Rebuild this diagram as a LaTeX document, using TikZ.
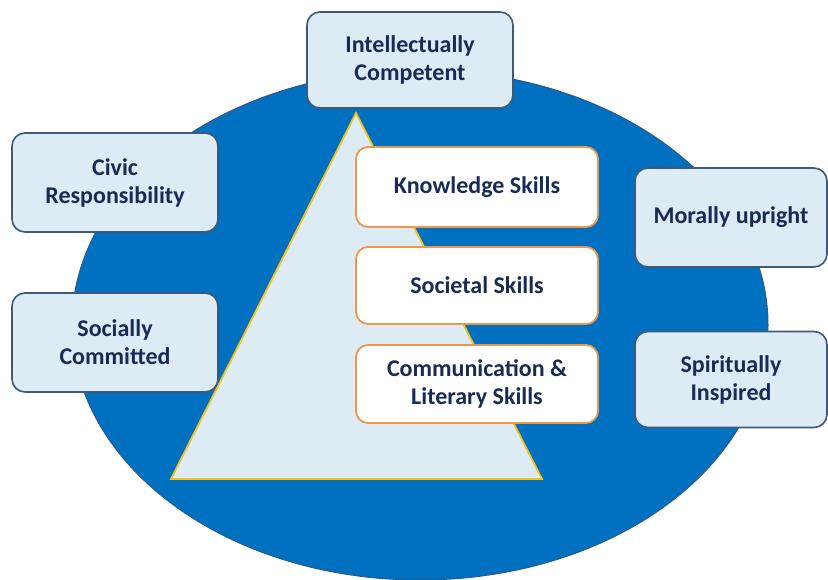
\documentclass[tikz,border=0pt]{standalone}
\usepackage{fontspec}
\setmainfont{Carlito}
\usetikzlibrary{shapes.geometric}
\definecolor{bigblue}{HTML}{0070C0}
\definecolor{ringline}{HTML}{2F5A86}
\definecolor{paleblue}{HTML}{DCEBF4}
\definecolor{boxline}{HTML}{3E5A78}
\definecolor{skillline}{HTML}{F0964A}
\definecolor{gold}{HTML}{F5C01A}
\definecolor{navy}{HTML}{172B55}
\tikzset{
  valuebox/.style={draw=boxline, line width=1.6pt, fill=paleblue, rounded corners=13pt,
    text=navy, font=\bfseries\fontsize{24}{28}\selectfont, align=center, inner sep=0pt},
  skillbox/.style={draw=skillline, line width=1.8pt, fill=white, rounded corners=12pt,
    text=navy, font=\bfseries\fontsize{24}{28}\selectfont, align=center, inner sep=0pt,
    minimum width=242pt},
}
\begin{document}
\begin{tikzpicture}[x=1pt,y=-1pt]
\useasboundingbox (0,0) rectangle (828,580);
% big ellipse
\node[draw=ringline, line width=1pt, fill=bigblue, ellipse, minimum width=696pt, minimum height=510pt, inner sep=0pt] (ring) at (420,325) {};
% pyramid
\coordinate (apex) at (356,113);
\coordinate (bl) at (171,479);
\coordinate (br) at (542,479);
\draw[gold, line width=1.8pt, fill=paleblue, line join=miter] (apex) -- (bl) -- (br) -- cycle;
% value boxes
\node[valuebox, minimum width=206pt, minimum height=96pt] (intel) at (410,60) {Intellectually\\Competent};
\node[valuebox, minimum width=206pt, minimum height=99pt] (civic) at (115,182.5) {Civic\\Responsibility};
\node[valuebox, minimum width=206pt, minimum height=99pt] (social) at (115,342.5) {Socially\\Committed};
\node[valuebox, minimum width=192pt, minimum height=99pt] (moral) at (731,217.5) {Morally upright};
\node[valuebox, minimum width=192pt, minimum height=96pt] (spirit) at (731,379.5) {Spiritually\\Inspired};
% skill boxes
\node[skillbox, minimum height=80pt] (know) at (477,187) {Knowledge Skills};
\node[skillbox, minimum height=77pt] (soc) at (477,285.5) {Societal Skills};
\node[skillbox, minimum height=78pt] (comm) at (477,384) {Communication \&\\Literary Skills};
\end{tikzpicture}
\end{document}
